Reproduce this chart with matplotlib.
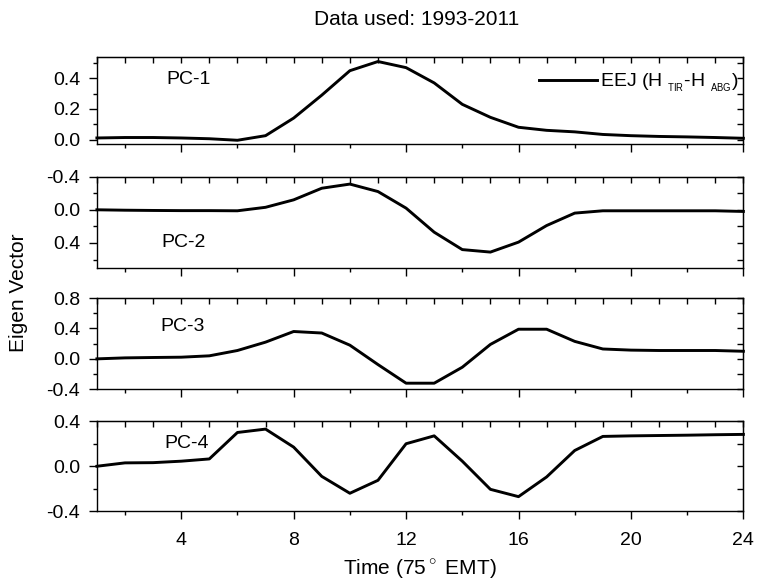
"""
Stacked plot of the first four EEJ principal-component eigenvectors
against local time (75 deg EMT), one panel per component.
"""
import matplotlib

matplotlib.use("Agg")
import matplotlib.pyplot as plt
from matplotlib.ticker import MultipleLocator, FormatStrFormatter, NullFormatter

plt.rcParams["font.family"] = ["Liberation Sans", "DejaVu Sans"]
plt.rcParams["axes.unicode_minus"] = False
plt.rcParams["mathtext.fontset"] = "custom"
plt.rcParams["mathtext.rm"] = "Liberation Sans"

# hourly time axis
hours = list(range(1, 25))

pc1 = [0.010, 0.013, 0.013, 0.010, 0.005, -0.005, 0.025, 0.14, 0.29, 0.45, 0.51, 0.47,
       0.37, 0.23, 0.145, 0.08, 0.06, 0.05, 0.033, 0.025, 0.02, 0.017, 0.013, 0.008]
pc2 = [0.0, 0.005, 0.008, 0.01, 0.01, 0.012, -0.03, -0.12, -0.26, -0.31, -0.22, -0.02,
       0.27, 0.48, 0.51, 0.39, 0.19, 0.04, 0.012, 0.012, 0.012, 0.012, 0.012, 0.02]
pc3 = [0.0, 0.013, 0.018, 0.022, 0.04, 0.11, 0.22, 0.36, 0.34, 0.18, -0.075, -0.32,
       -0.32, -0.11, 0.19, 0.39, 0.39, 0.23, 0.13, 0.115, 0.11, 0.11, 0.11, 0.10]
pc4 = [0.0, 0.03, 0.032, 0.045, 0.065, 0.30, 0.33, 0.17, -0.09, -0.24, -0.125, 0.20,
       0.27, 0.045, -0.205, -0.27, -0.095, 0.14, 0.265, 0.27, 0.273, 0.276, 0.28, 0.283]

components = [pc1, pc2, pc3, pc4]
panel_names = ["PC-1", "PC-2", "PC-3", "PC-4"]
x_ticks = [4, 8, 12, 16, 20, 24]

# per-panel axis setup; panel 2 has its y axis flipped
PANELS = [
    dict(rect=[0.128, 0.752, 0.854, 0.150], ylim=(-0.03, 0.54),
         major=0.2, minor=0.1, label_xy=(4.25, 0.39)),
    dict(rect=[0.128, 0.539, 0.854, 0.157], ylim=(0.7, -0.4),
         major=0.4, minor=0.2, label_xy=(4.1, 0.4)),
    dict(rect=[0.128, 0.330, 0.854, 0.157], ylim=(-0.4, 0.8),
         major=0.4, minor=0.2, label_xy=(4.05, 0.43)),
    dict(rect=[0.128, 0.120, 0.854, 0.155], ylim=(-0.4, 0.4),
         major=0.4, minor=0.2, label_xy=(4.2, 0.2)),
]

FS = 14


def style_axes(ax, cfg, show_xlabels):
    ax.set_xlim(1, 24)
    ax.set_ylim(*cfg["ylim"])
    ax.xaxis.set_major_locator(MultipleLocator(4))
    ax.xaxis.set_minor_locator(MultipleLocator(2))
    ax.yaxis.set_major_locator(MultipleLocator(cfg["major"]))
    ax.yaxis.set_minor_locator(MultipleLocator(cfg["minor"]))
    ax.yaxis.set_major_formatter(FormatStrFormatter("%.1f"))
    # bottom/left ticks point out
    ax.tick_params(which="both", direction="out", top=False, right=False,
                   width=1.0, labelsize=FS)
    ax.tick_params(which="major", length=6)
    ax.tick_params(which="minor", length=3)
    ax.tick_params(axis="y", pad=6)
    ax.tick_params(axis="x", pad=9)
    if show_xlabels:
        ax.set_xticks(x_ticks)
    else:
        ax.tick_params(labelbottom=False)
    for sp in ax.spines.values():
        sp.set_linewidth(1.0)

    # mirrored top/right axes with inward ticks
    top = ax.secondary_xaxis("top")
    top.xaxis.set_major_locator(MultipleLocator(1))
    top.xaxis.set_major_formatter(NullFormatter())
    top.tick_params(direction="in", length=4.5, width=1.0)
    right = ax.secondary_yaxis("right")
    right.yaxis.set_major_locator(MultipleLocator(cfg["minor"]))
    right.yaxis.set_major_formatter(NullFormatter())
    right.tick_params(direction="in", length=4.5, width=1.0)


def draw(fig):
    axes = []
    for i, (vals, name, cfg) in enumerate(zip(components, panel_names, PANELS)):
        ax = fig.add_axes(cfg["rect"])
        line, = ax.plot(hours, vals, color="black", lw=2.1, clip_on=False)
        style_axes(ax, cfg, show_xlabels=(i == 3))
        ax.text(*cfg["label_xy"], name, fontsize=FS, ha="center", va="center")
        if i == 0:
            ax.legend([line], [r"EEJ (H $_{_{\rm TIR}}$-H $_{_{\rm ABG}}$)"],
                      loc="center right", frameon=False, fontsize=FS,
                      handlelength=3.0, handletextpad=0.15, borderpad=0,
                      borderaxespad=0, bbox_to_anchor=(0.993, 0.70))
        axes.append(ax)

    fig.text(0.551, 0.966, "Data used: 1993-2011", fontsize=15, ha="center", va="center")
    fig.text(0.024, 0.496, "Eigen Vector", fontsize=15, rotation=90,
             ha="center", va="center")
    axes[-1].set_xlabel(r"Time (75$^\circ$ EMT)", fontsize=15, labelpad=6)
    return axes


if __name__ == "__main__":
    fig = plt.figure(figsize=(7.57, 5.81), dpi=100)
    draw(fig)
    fig.savefig("out.png", dpi=100)
